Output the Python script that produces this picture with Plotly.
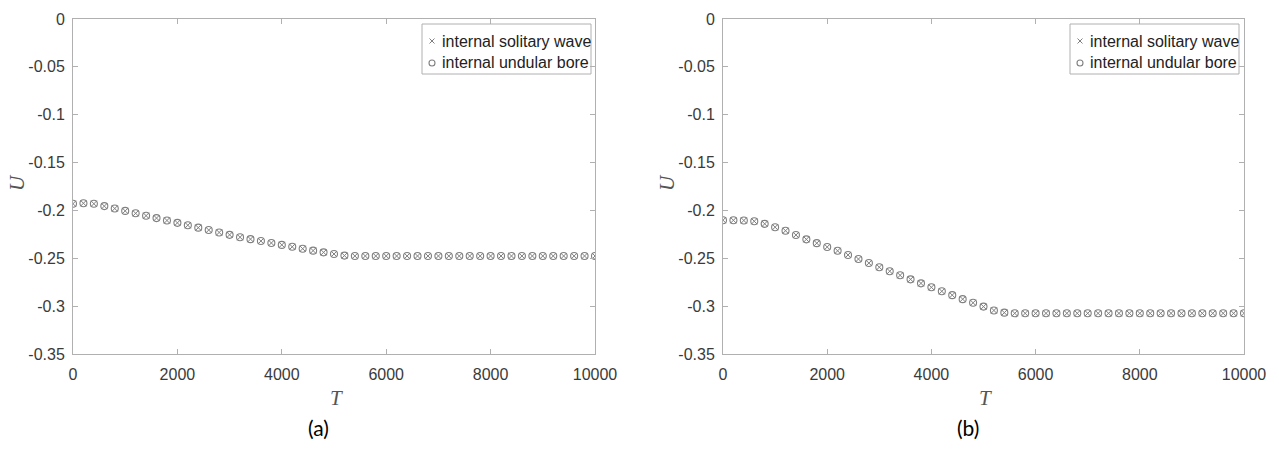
import plotly.graph_objects as go

# ---- data ----
T = [0, 200, 400, 600, 800, 1000, 1200, 1400, 1600, 1800,
     2000, 2200, 2400, 2600, 2800, 3000, 3200, 3400, 3600, 3800,
     4000, 4200, 4400, 4600, 4800, 5000, 5200, 5400, 5600, 5800,
     6000, 6200, 6400, 6600, 6800, 7000, 7200, 7400, 7600, 7800,
     8000, 8200, 8400, 8600, 8800, 9000, 9200, 9400, 9600, 9800,
     10000]

U_a_solitary = [-0.1930, -0.1925, -0.1930, -0.1955, -0.1980, -0.2005, -0.2030, -0.2055, -0.2080, -0.2105,
                -0.2130, -0.2155, -0.2180, -0.2205, -0.2230, -0.2255, -0.2280, -0.2300, -0.2320, -0.2340,
                -0.2360, -0.2380, -0.2400, -0.2420, -0.2438, -0.2455, -0.2472, -0.2476, -0.2476, -0.2476,
                -0.2476, -0.2476, -0.2476, -0.2476, -0.2476, -0.2476, -0.2476, -0.2476, -0.2476, -0.2476,
                -0.2476, -0.2476, -0.2476, -0.2476, -0.2476, -0.2476, -0.2476, -0.2476, -0.2476, -0.2476,
                -0.2476]
U_a_bore = [-0.1930, -0.1925, -0.1930, -0.1955, -0.1980, -0.2005, -0.2030, -0.2055, -0.2080, -0.2105,
            -0.2130, -0.2155, -0.2180, -0.2205, -0.2230, -0.2255, -0.2280, -0.2300, -0.2320, -0.2340,
            -0.2360, -0.2380, -0.2400, -0.2420, -0.2438, -0.2455, -0.2472, -0.2476, -0.2476, -0.2476,
            -0.2476, -0.2476, -0.2476, -0.2476, -0.2476, -0.2476, -0.2476, -0.2476, -0.2476, -0.2476,
            -0.2476, -0.2476, -0.2476, -0.2476, -0.2476, -0.2476, -0.2476, -0.2476, -0.2476, -0.2476,
            -0.2476]

U_b_solitary = [-0.2102, -0.2103, -0.2105, -0.2113, -0.2140, -0.2175, -0.2212, -0.2257, -0.2302, -0.2342,
                -0.2382, -0.2422, -0.2465, -0.2508, -0.2550, -0.2593, -0.2635, -0.2678, -0.2720, -0.2762,
                -0.2803, -0.2845, -0.2885, -0.2927, -0.2965, -0.3005, -0.3045, -0.3068, -0.3075, -0.3075,
                -0.3075, -0.3075, -0.3075, -0.3075, -0.3075, -0.3075, -0.3075, -0.3075, -0.3075, -0.3075,
                -0.3075, -0.3075, -0.3075, -0.3075, -0.3075, -0.3075, -0.3075, -0.3075, -0.3075, -0.3075,
                -0.3075]
U_b_bore = [-0.2102, -0.2103, -0.2105, -0.2113, -0.2140, -0.2175, -0.2212, -0.2257, -0.2302, -0.2342,
            -0.2382, -0.2422, -0.2465, -0.2508, -0.2550, -0.2593, -0.2635, -0.2678, -0.2720, -0.2762,
            -0.2803, -0.2845, -0.2885, -0.2927, -0.2965, -0.3005, -0.3045, -0.3068, -0.3075, -0.3075,
            -0.3075, -0.3075, -0.3075, -0.3075, -0.3075, -0.3075, -0.3075, -0.3075, -0.3075, -0.3075,
            -0.3075, -0.3075, -0.3075, -0.3075, -0.3075, -0.3075, -0.3075, -0.3075, -0.3075, -0.3075,
            -0.3075]

x_ticks = [0, 2000, 4000, 6000, 8000, 10000]
x_ticktext = ["0", "2000", "4000", "6000", "8000", "10000"]
y_ticks = [0, -0.05, -0.1, -0.15, -0.2, -0.25, -0.3, -0.35]
y_ticktext = ["0", "-0.05", "-0.1", "-0.15", "-0.2", "-0.25", "-0.3", "-0.35"]
series_names = ["internal solitary wave", "internal undular bore"]
panel_labels = ["(a)", "(b)"]

# ---- style ----
W, H = 1279, 449
mark_col = "#808080"
line_col = "#b0b0b0"
text_col = "#3a3a3a"
sans = "Liberation Sans, Arial, sans-serif"
serif = "Liberation Serif, DejaVu Serif, serif"
tick_font = dict(family=sans, size=16, color=text_col)
sym_solitary = dict(symbol="x-thin", size=6, line=dict(width=1, color=mark_col), color=mark_col)
sym_bore = dict(symbol="circle-open", size=7, line=dict(width=1.1, color=mark_col), color=mark_col)

fig = go.Figure()

panels = [
    ("x", "y", U_a_solitary, U_a_bore),
    ("x2", "y2", U_b_solitary, U_b_bore),
]
for xa, ya, us, ub in panels:
    fig.add_trace(go.Scatter(x=T, y=us, mode="markers", name=series_names[0],
                             xaxis=xa, yaxis=ya, showlegend=False, marker=sym_solitary))
    fig.add_trace(go.Scatter(x=T, y=ub, mode="markers", name=series_names[1],
                             xaxis=xa, yaxis=ya, showlegend=False, marker=sym_bore))

# pixel geometry of plot areas
px_a = (73, 595)
px_b = (723, 1244)
py = (19, 354)
ydom = [(H - py[1]) / H, (H - py[0]) / H]

def xax(dom, anchor):
    return dict(
        domain=[dom[0] / W, dom[1] / W], anchor=anchor, range=[0, 10000],
        tickvals=x_ticks, ticktext=x_ticktext, ticks="inside", ticklen=5,
        tickcolor=line_col, showline=True, linecolor=line_col, linewidth=1,
        mirror="ticks", showgrid=False, zeroline=False, tickfont=tick_font,
        ticklabelstandoff=6, automargin=False,
    )

def yax(anchor):
    return dict(
        domain=ydom, anchor=anchor, range=[-0.35, 0],
        tickvals=y_ticks, ticktext=y_ticktext, ticks="inside", ticklen=5,
        tickcolor=line_col, showline=True, linecolor=line_col, linewidth=1,
        mirror="ticks", showgrid=False, zeroline=False, tickfont=tick_font,
        ticklabelstandoff=4, automargin=False,
    )

shapes = []
annotations = []
legend_boxes = [(422, 591), (1070, 1239)]
leg_top, leg_bot = 24, 74
row_y = [41, 63]
leg_syms = [[], []]
for (x0, x1), (lx0, lx1), lab in zip([px_a, px_b], legend_boxes, panel_labels):
    cx = (x0 + x1) / 2
    annotations.append(dict(
        x=(cx + 2) / W, y=(H - 398) / H, xref="paper", yref="paper", text="<i>T</i>",
        showarrow=False, xanchor="center", yanchor="middle",
        font=dict(family=serif, size=21, color="#555555"),
    ))
    annotations.append(dict(
        x=(x0 - 56) / W, y=(H - 183) / H, xref="paper", yref="paper", text="<i>U</i>",
        showarrow=False, xanchor="center", yanchor="middle", textangle=-90,
        font=dict(family=serif, size=21, color="#555555"),
    ))
    annotations.append(dict(
        x=(cx - 16) / W, y=(H - 427) / H, xref="paper", yref="paper", text=lab,
        showarrow=False, xanchor="center", yanchor="middle",
        font=dict(family="Lato, Open Sans, sans-serif", size=21, color="#000000"),
    ))
    # legend box
    shapes.append(dict(
        type="rect", xref="paper", yref="paper",
        x0=lx0 / W, x1=lx1 / W, y0=(H - leg_bot) / H, y1=(H - leg_top) / H,
        line=dict(color=line_col, width=1), fillcolor="white", layer="below",
    ))
    for k, (name, ry) in enumerate(zip(series_names, row_y)):
        leg_syms[k].append((lx0 + 10, ry))
        annotations.append(dict(
            x=(lx0 + 18) / W, y=(H - ry) / H, xref="paper", yref="paper", text=name,
            showarrow=False, xanchor="left", yanchor="middle",
            font=dict(family=sans, size=16, color="#222222"),
        ))

# legend sample symbols on a hidden full-page axis pair (pixel units)
for k, sym in enumerate([sym_solitary, sym_bore]):
    fig.add_trace(go.Scatter(
        x=[p[0] for p in leg_syms[k]], y=[p[1] for p in leg_syms[k]],
        mode="markers", xaxis="x3", yaxis="y3", showlegend=False, hoverinfo="skip",
        marker=dict(sym, size=sym["size"] - 1),
    ))

fig.update_layout(
    width=W, height=H, autosize=False,
    margin=dict(l=0, r=0, t=0, b=0, autoexpand=False),
    paper_bgcolor="white", plot_bgcolor="rgba(0,0,0,0)",
    xaxis=xax(px_a, "y"), yaxis=yax("x"),
    xaxis2=xax(px_b, "y2"), yaxis2=yax("x2"),
    xaxis3=dict(domain=[0, 1], range=[0, W], visible=False, anchor="y3", fixedrange=True),
    yaxis3=dict(domain=[0, 1], range=[H, 0], visible=False, anchor="x3", fixedrange=True),
    shapes=shapes, annotations=annotations,
    showlegend=False, hovermode=False,
)

fig.write_html(
    "out.html",
    config={"displayModeBar": False, "staticPlot": True},
    post_script="document.body.style.margin='0';document.body.style.padding='0';",
)
